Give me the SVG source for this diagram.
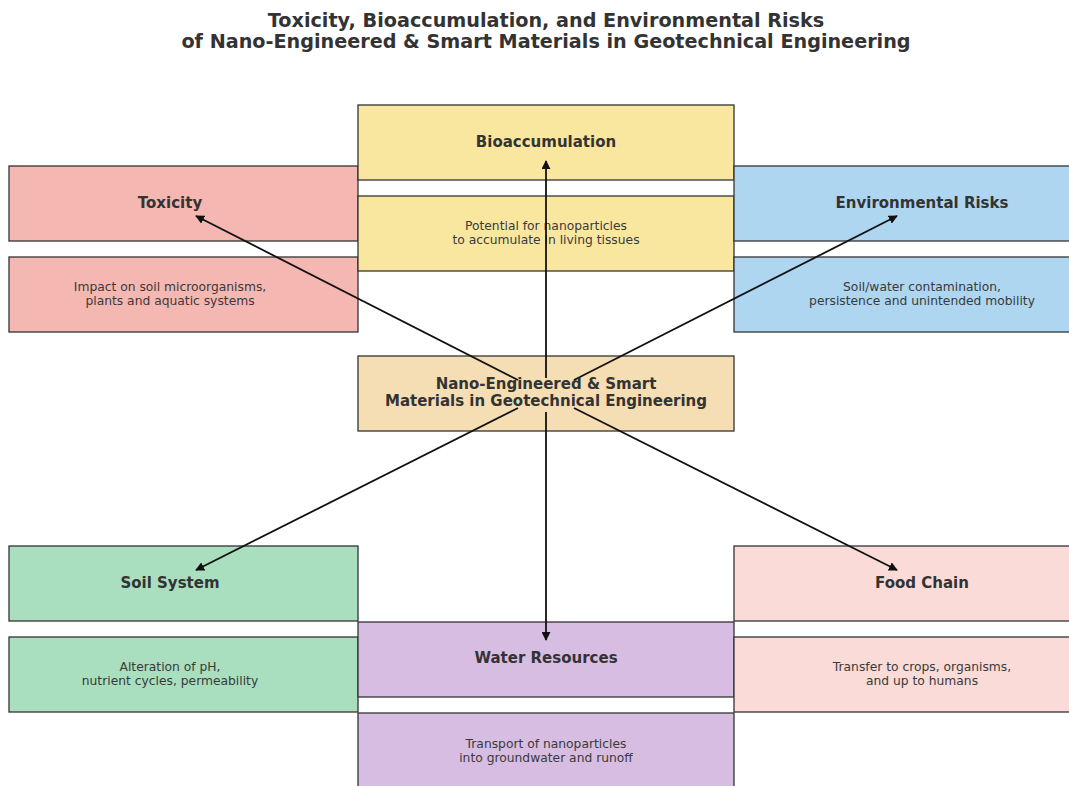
<svg xmlns="http://www.w3.org/2000/svg" width="1069" height="786" viewBox="0 0 1069 786">
<style>
.box{stroke:#333;stroke-width:1.3}
.t{font-family:"DejaVu Sans",sans-serif;font-weight:bold;font-size:15px;fill:#333;text-anchor:middle}
.d{font-family:"DejaVu Sans",sans-serif;font-size:12.3px;fill:#3a3a3a;text-anchor:middle}
.ti{font-family:"DejaVu Sans",sans-serif;font-weight:bold;font-size:19.2px;fill:#333;text-anchor:middle}
.c{stroke:#111;stroke-width:1.8;fill:none;marker-end:url(#ah)}
</style>
<defs>
<marker id="ah" viewBox="0 0 10 10" refX="9" refY="5" markerWidth="5" markerHeight="5" orient="auto" markerUnits="strokeWidth">
<path d="M0,0 L10,5 L0,10 z" fill="#111"/>
</marker>
</defs>
<rect width="1069" height="786" fill="#fff"/>
<g id="title">
<text class="ti" x="546" y="27">Toxicity, Bioaccumulation, and Environmental Risks</text>
<text class="ti" x="546" y="48">of Nano-Engineered &amp; Smart Materials in Geotechnical Engineering</text>
</g>
<g id="toxicity">
<rect class="box" x="9" y="166" width="349" height="75" fill="#F5B7B1"/>
<text class="t" x="170" y="208">Toxicity</text>
<rect class="box" x="9" y="257" width="349" height="75" fill="#F5B7B1"/>
<text class="d" x="170" y="291">Impact on soil microorganisms,</text>
<text class="d" x="170" y="305">plants and aquatic systems</text>
</g>
<g id="bioaccumulation">
<rect class="box" x="358" y="105" width="376" height="75" fill="#F9E79F"/>
<text class="t" x="546" y="147">Bioaccumulation</text>
<rect class="box" x="358" y="196" width="376" height="75" fill="#F9E79F"/>
<text class="d" x="546" y="230">Potential for nanoparticles</text>
<text class="d" x="546" y="244">to accumulate in living tissues</text>
</g>
<g id="environmental">
<rect class="box" x="734" y="166" width="345" height="75" fill="#AED6F1"/>
<text class="t" x="922" y="208">Environmental Risks</text>
<rect class="box" x="734" y="257" width="345" height="75" fill="#AED6F1"/>
<text class="d" x="922" y="291">Soil/water contamination,</text>
<text class="d" x="922" y="305">persistence and unintended mobility</text>
</g>
<g id="center">
<rect class="box" x="358" y="356" width="376" height="75" fill="#F5DEB3"/>
</g>
<g id="soil">
<rect class="box" x="9" y="546" width="349" height="75" fill="#A9DFBF"/>
<text class="t" x="170" y="588">Soil System</text>
<rect class="box" x="9" y="637" width="349" height="75" fill="#A9DFBF"/>
<text class="d" x="170" y="671">Alteration of pH,</text>
<text class="d" x="170" y="685">nutrient cycles, permeability</text>
</g>
<g id="water">
<rect class="box" x="358" y="622" width="376" height="75" fill="#D7BDE2"/>
<text class="t" x="546" y="663">Water Resources</text>
<rect class="box" x="358" y="713" width="376" height="80" fill="#D7BDE2"/>
<text class="d" x="546" y="748">Transport of nanoparticles</text>
<text class="d" x="546" y="762">into groundwater and runoff</text>
</g>
<g id="food">
<rect class="box" x="734" y="546" width="345" height="75" fill="#FADBD8"/>
<text class="t" x="922" y="588">Food Chain</text>
<rect class="box" x="734" y="637" width="345" height="75" fill="#FADBD8"/>
<text class="d" x="922" y="671">Transfer to crops, organisms,</text>
<text class="d" x="922" y="685">and up to humans</text>
</g>
<g id="connectors">
<line class="c" x1="518" y1="380" x2="196" y2="216"/>
<line class="c" x1="546" y1="378" x2="546" y2="161"/>
<line class="c" x1="574" y1="380" x2="897" y2="216"/>
<line class="c" x1="518" y1="408" x2="196" y2="570"/>
<line class="c" x1="546" y1="412" x2="546" y2="640"/>
<line class="c" x1="574" y1="408" x2="897" y2="570"/>
</g>
<g id="center-label">
<text class="t" x="546" y="389">Nano-Engineered &amp; Smart</text>
<text class="t" x="546" y="406">Materials in Geotechnical Engineering</text>
</g>
</svg>
